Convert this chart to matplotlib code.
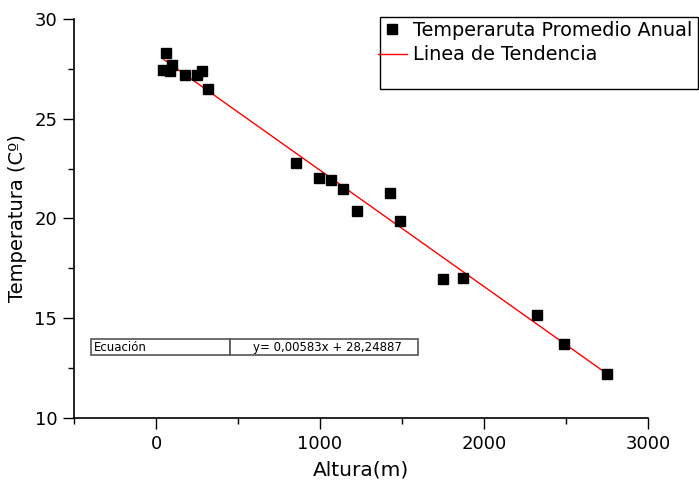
import matplotlib
matplotlib.use("Agg")
import matplotlib.pyplot as plt
import numpy as np
from matplotlib.patches import Rectangle
from matplotlib.ticker import MultipleLocator

plt.rcParams['font.family'] = ['DejaVu Sans']

altura = [41, 59, 85, 100, 177, 248, 282, 317, 854, 992, 1067, 1140, 1228,
          1425, 1490, 1748, 1870, 2323, 2486, 2748]
temperatura = [27.44, 28.28, 27.40, 27.68, 27.20, 27.20, 27.40, 26.50, 22.77,
               22.05, 21.93, 21.48, 20.36, 21.28, 19.89, 16.95, 17.00, 15.15,
               13.72, 12.19]
pendiente = -0.00583
intercepto = 28.24887
trend_x = [49, 2760]

W, H = 699, 484
fig = plt.figure(figsize=(W / 100, H / 100), dpi=100)
ax = fig.add_axes([74 / W, 1 - 418 / H, (648 - 74) / W, (418 - 19) / H])

tx = np.array(trend_x, dtype=float)
ax.plot(tx, pendiente * tx + intercepto, color='red', lw=1.0, zorder=2,
        label='Linea de Tendencia')
ax.plot(altura, temperatura, 's', color='black', ms=7.4, zorder=3,
        label='Temperaruta Promedio Anual')

ax.set_xlim(-500, 3000)
ax.set_ylim(10, 30)
ax.xaxis.set_major_locator(MultipleLocator(1000))
ax.xaxis.set_minor_locator(MultipleLocator(500))
ax.yaxis.set_major_locator(MultipleLocator(5))
ax.yaxis.set_minor_locator(MultipleLocator(2.5))
ax.spines['top'].set_visible(False)
ax.spines['right'].set_visible(False)
for s in ['left', 'bottom']:
    ax.spines[s].set_linewidth(1.2)
ax.tick_params(which='major', direction='out', length=8, width=1.0,
               labelsize=13, pad=4)
ax.tick_params(which='minor', direction='out', length=4, width=1.0)
ax.set_xlabel('Altura(m)', fontsize=14.5, labelpad=6)
ax.set_ylabel('Temperatura (Cº)', fontsize=14, labelpad=5)

# legend box
fig.add_artist(Rectangle((380 / W, 1 - 89 / H), (698 - 380) / W, (89 - 17) / H,
                         transform=fig.transFigure, facecolor='white',
                         edgecolor='black', lw=1.0, zorder=5))
handles, labels = ax.get_legend_handles_labels()
leg = fig.legend(handles[::-1], labels[::-1], loc='upper left',
                 bbox_to_anchor=(376 / W, 1 - 19 / H), frameon=False,
                 fontsize=13.9, handlelength=1.5, handletextpad=0.3,
                 labelspacing=0.28, borderaxespad=0, borderpad=0.1)
leg.set_zorder(6)

# equation table
y0, y1 = 339, 355
fig.add_artist(Rectangle((91 / W, 1 - y1 / H), (230 - 91) / W, (y1 - y0) / H,
                         transform=fig.transFigure, facecolor='white',
                         edgecolor='#555555', lw=1.2))
fig.add_artist(Rectangle((230 / W, 1 - y1 / H), (418 - 230) / W, (y1 - y0) / H,
                         transform=fig.transFigure, facecolor='white',
                         edgecolor='#555555', lw=1.2))
fig.text(94 / W, 1 - 347.5 / H, 'Ecuación', fontsize=8.5, va='center', ha='left')
fig.text(327 / W, 1 - 347.5 / H, 'y= 0,00583x + 28,24887', fontsize=8.5,
         va='center', ha='center')

fig.savefig('out.png', dpi=100)
